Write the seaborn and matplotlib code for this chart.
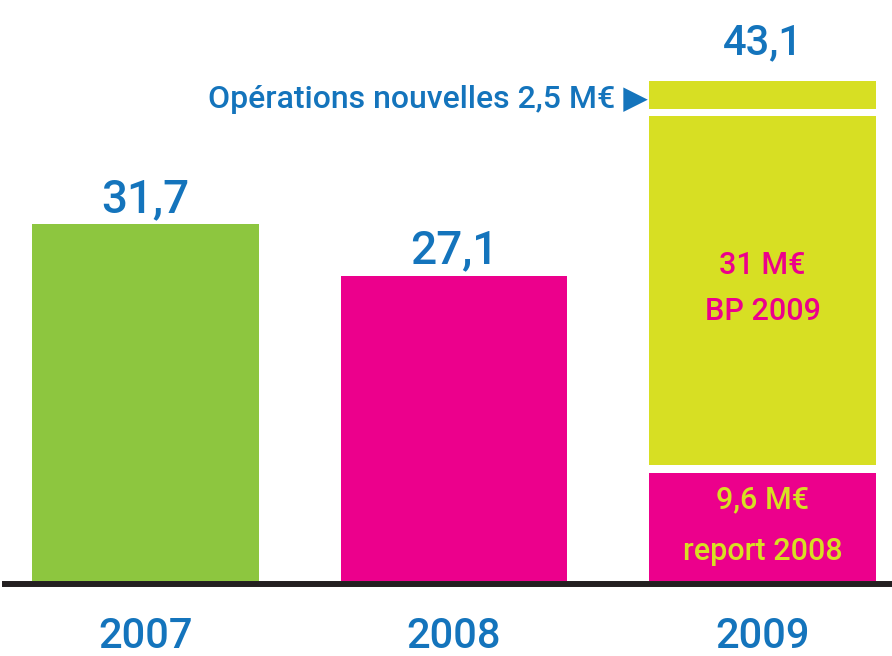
import matplotlib
matplotlib.use("Agg")
import matplotlib.pyplot as plt
import seaborn as sns
import pandas as pd

# ---- data ----
years = ["2007", "2008", "2009"]
totals = [31.7, 27.1, 43.1]
total_labels = ["31,7", "27,1", "43,1"]
seg2009_values = [9.6, 31.0, 2.5]
seg2009_lines = [["9,6 M€", "report 2008"], ["31 M€", "BP 2009"], []]
annot_text = "Opérations nouvelles 2,5 M€ ▶"

# ---- style ----
GREEN = "#8DC63F"
MAGENTA = "#EC008C"
YELLOW = "#D7DF23"
BLUE = "#1474BC"
BLACK = "#231F20"
BAR_W = 0.733
GAP = 0.65

sns.set_theme(style="white")
plt.rcParams["font.family"] = ["Roboto", "DejaVu Sans"]

fig = plt.figure(figsize=(8.92, 6.56), dpi=100)
ax = fig.add_axes([0, 75 / 656, 1, 581 / 656])

# base bars (2007, 2008 totals; 2009 first segment)
base_vals = [totals[0], totals[1], seg2009_values[0]]
df = pd.DataFrame({"year": years, "value": base_vals})
sns.barplot(data=df, x="year", y="value", hue="year", order=years, hue_order=years,
            palette=[GREEN, MAGENTA, MAGENTA], saturation=1, width=BAR_W,
            legend=False, linewidth=0, ax=ax)

# stacked upper segments of 2009
seg_colors = [MAGENTA, YELLOW, YELLOW]
bottoms = []
b = 0.0
for i, v in enumerate(seg2009_values):
    bottoms.append(b)
    if i > 0:
        ax.bar(2, v, bottom=b, width=BAR_W, color=seg_colors[i], linewidth=0)
    b += v + GAP
stack_top = bottoms[-1] + seg2009_values[-1]

ax.set_xlim(-0.4716, 2.4198)
ax.set_ylim(0, 51.55)

# value labels
tops = [totals[0], totals[1], stack_top]
offs = [8.6, 8.6, 19.0]
sizes = [33, 33, 30]
for i, (lab, t) in enumerate(zip(total_labels, tops)):
    ax.annotate(lab, xy=(i, t), xytext=(0, offs[i]), textcoords="offset points",
                ha="center", va="baseline", fontsize=sizes[i], color=BLUE,
                fontweight="medium")

# segment labels
seg_text_colors = [YELLOW, MAGENTA, MAGENTA]
line_offs = [[13.7, -23.8], [12.2, -20.9], []]
for i, lines in enumerate(seg2009_lines):
    mid = bottoms[i] + seg2009_values[i] / 2
    for line, off in zip(lines, line_offs[i]):
        ax.annotate(line, xy=(2, mid), xytext=(0, off), textcoords="offset points",
                    ha="center", va="baseline", fontsize=22,
                    color=seg_text_colors[i], fontweight="medium")

# annotation pointing at the top segment
top_mid = bottoms[-1] + seg2009_values[-1] / 2
ax.annotate(annot_text, xy=(2 - BAR_W / 2, top_mid), xytext=(-1, -3.5),
            textcoords="offset points", ha="right", va="center",
            fontsize=23, color=BLUE, fontweight="medium")

# axis / baseline
for s in ["left", "right", "top"]:
    ax.spines[s].set_visible(False)
ax.spines["bottom"].set_visible(True)
ax.spines["bottom"].set_color(BLACK)
ax.spines["bottom"].set_linewidth(4.3)
ax.spines["bottom"].set_position(("outward", 2.2))
ax.spines["bottom"].set_bounds(-0.455, 2.42)
ax.set_yticks([])
ax.set_xticks(range(len(years)))
ax.set_xticklabels(years, fontweight="medium")
ax.tick_params(axis="x", length=0, pad=23, labelsize=30, labelcolor=BLUE)
ax.set_xlabel("")
ax.set_ylabel("")
ax.patch.set_alpha(0)

fig.savefig("out.png", dpi=100)
